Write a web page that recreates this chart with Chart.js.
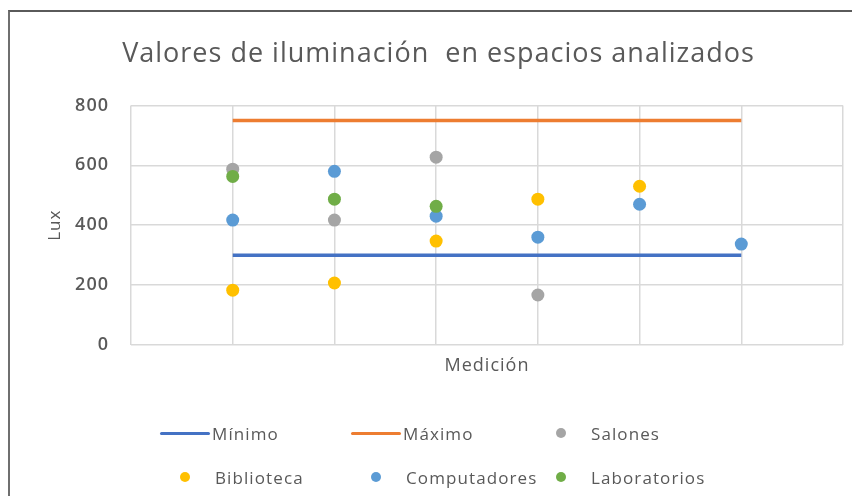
<!DOCTYPE html>
<html>
<head>
<meta charset="utf-8">
<script src="https://cdn.jsdelivr.net/npm/chart.js@4/dist/chart.umd.min.js"></script>
<style>
  html, body { margin: 0; padding: 0; background: #fff; overflow: hidden; }
  body { width: 852px; height: 496px; position: relative; font-family: "Open Sans", sans-serif; }
  #frame { position: absolute; left: 8px; top: 10px; width: 900px; height: 600px;
           border-left: 2px solid #6f6f6f; border-top: 2px solid #5a5a5a; }
  #wrap { position: absolute; left: 0; top: 0; width: 852px; height: 400px; }
  #legend { position: absolute; left: 0; top: 0; width: 852px; height: 496px; pointer-events: none; }
  .item { position: absolute; height: 20px; display: flex; align-items: center;
          color: #595959; font-size: 17px; letter-spacing: 1.1px; white-space: nowrap; }
  .mark { width: 50px; height: 20px; position: relative; }
  .mark .ln { position: absolute; left: 0; right: 0; top: 9px; height: 3px; border-radius: 2px; }
  .mark .dot { position: absolute; left: 20px; top: 5px; width: 10px; height: 10px; border-radius: 50%; }
</style>
</head>
<body>
<div id="frame"></div>
<div id="wrap"><canvas id="chart"></canvas></div>
<div id="legend"></div>
<script>
/* Data */
const medicion     = [1, 2, 3, 4, 5, 6];
const minimo       = [300, 300, 300, 300, 300, 300];
const maximo       = [750, 750, 750, 750, 750, 750];
const salones      = [587, 417, 627, 167, null, null];
const biblioteca   = [183, 207, 347, 487, 530, null];
const computadores = [417, 580, 430, 360, 470, 337];
const laboratorios = [563, 487, 463, null, null, null];
const yTicks = [0, 200, 400, 600, 800];

const gray = "#595959";
const gridColor = "#d9d9d9";

const pts = (vals) => medicion.map((x, i) => ({ x, y: vals[i] })).filter(p => p.y !== null);

const series = [
  { label: "Mínimo", values: minimo, color: "#4472C4", line: true },
  { label: "Máximo", values: maximo, color: "#ED7D31", line: true },
  { label: "Salones", values: salones, color: "#A5A5A5" },
  { label: "Biblioteca", values: biblioteca, color: "#FFC000" },
  { label: "Computadores", values: computadores, color: "#5B9BD5" },
  { label: "Laboratorios", values: laboratorios, color: "#70AD47" }
];

const datasets = series.map((s, i) => s.line ? {
  label: s.label, data: pts(s.values), showLine: true,
  borderColor: s.color, borderWidth: 3.5, pointRadius: 0, pointHoverRadius: 0,
  order: 10 - i
} : {
  label: s.label, data: pts(s.values), showLine: false,
  backgroundColor: s.color, borderColor: s.color, borderWidth: 0,
  pointRadius: 6.5, order: 10 - i
});

/* letter spacing to mimic the wide original text */
const spacing = {
  id: "spacing",
  beforeLayout(chart) { chart.ctx.letterSpacing = "1px"; },
  beforeDraw(chart) { chart.ctx.letterSpacing = "1px"; }
};

const canvas = document.getElementById("chart");
new Chart(canvas, {
  type: "scatter",
  data: { datasets },
  plugins: [spacing],
  options: {
    responsive: true,
    maintainAspectRatio: false,
    animation: false,
    layout: { padding: { left: 34, right: 9, top: 38, bottom: 23 } },
    plugins: {
      legend: { display: false },
      tooltip: { enabled: false },
      title: {
        display: true,
        text: "Valores de iluminación  en espacios analizados",
        color: gray,
        font: { family: "Open Sans", size: 27, weight: "normal" },
        padding: { top: 0, bottom: 35 }
      }
    },
    scales: {
      x: {
        type: "linear", min: 0, max: 7,
        ticks: { display: false, stepSize: 1 },
        grid: { color: gridColor, lineWidth: 1.5, drawTicks: false },
        border: { display: false },
        title: { display: true, text: "Medición", color: gray,
                 font: { family: "Open Sans", size: 18 }, padding: { top: 0, bottom: 0 } },
        afterFit(scale) { scale.height = 32; }
      },
      y: {
        min: 0, max: 800,
        afterBuildTicks(scale) { scale.ticks = yTicks.map(v => ({ value: v })); },
        ticks: { color: gray, padding: 22, font: { family: "Open Sans", size: 18, weight: "600" } },
        grid: { color: gridColor, lineWidth: 1.5, drawTicks: false },
        border: { display: false },
        title: { display: true, text: "Lux", color: gray,
                 font: { family: "Open Sans", size: 17 }, padding: { top: 11, bottom: 0 } },
        afterFit(scale) { scale.width = 97; }
      }
    }
  }
});

/* Legend laid out like the original grid */
const legendPos = [
  [160, 423], [351, 423], [536, 423],
  [160, 467], [351, 467], [536, 467]
];
const legendEl = document.getElementById("legend");
series.forEach((s, i) => {
  const it = document.createElement("div");
  it.className = "item";
  it.style.left = legendPos[i][0] + "px";
  it.style.top = legendPos[i][1] + "px";
  const mk = document.createElement("span");
  mk.className = "mark";
  const inner = document.createElement("span");
  inner.className = s.line ? "ln" : "dot";
  inner.style.background = s.color;
  mk.appendChild(inner);
  const tx = document.createElement("span");
  tx.textContent = s.label;
  tx.style.marginLeft = s.line ? "2px" : "5px";
  it.appendChild(mk);
  it.appendChild(tx);
  legendEl.appendChild(it);
});
</script>
</body>
</html>
